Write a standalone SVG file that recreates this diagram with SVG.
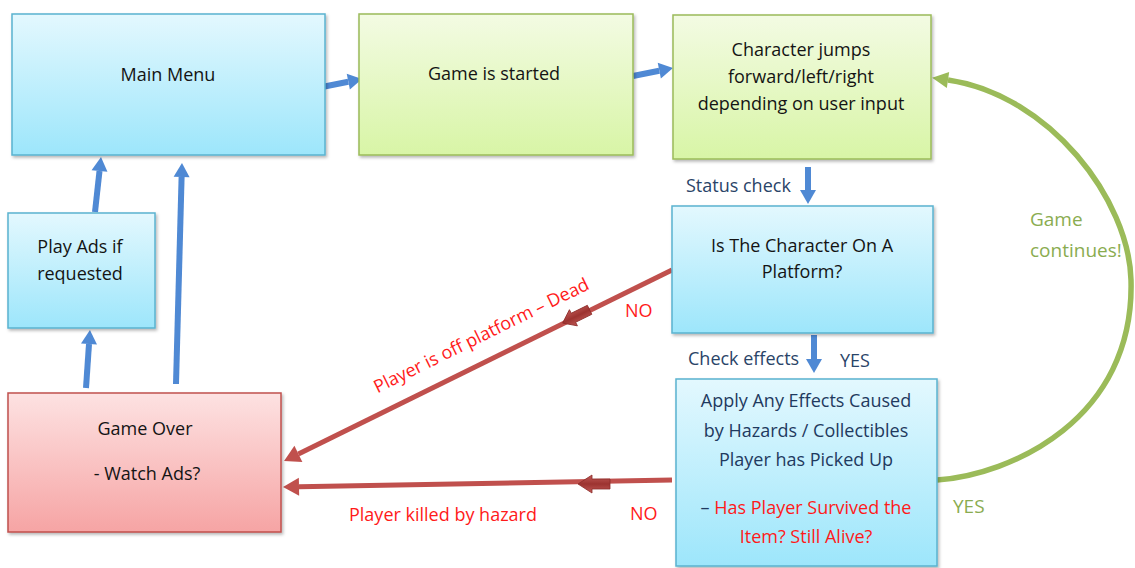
<svg xmlns="http://www.w3.org/2000/svg" width="1135" height="568" viewBox="0 0 1135 568">
<defs>
<linearGradient id="gBlue" x1="0" y1="0" x2="0" y2="1"><stop offset="0" stop-color="#e3f8fe"/><stop offset="1" stop-color="#9de6fb"/></linearGradient>
<linearGradient id="gGreen" x1="0" y1="0" x2="0" y2="1"><stop offset="0" stop-color="#f3fbe3"/><stop offset="1" stop-color="#d8f5a6"/></linearGradient>
<linearGradient id="gRed" x1="0" y1="0" x2="0" y2="1"><stop offset="0" stop-color="#fde2e2"/><stop offset="1" stop-color="#f6a4a4"/></linearGradient>
<linearGradient id="gMid" x1="0" y1="0" x2="0" y2="1"><stop offset="0" stop-color="#c25a57"/><stop offset="0.5" stop-color="#9c3330"/><stop offset="1" stop-color="#c25a57"/></linearGradient>
<filter id="sh" x="-5%" y="-5%" width="110%" height="115%"><feDropShadow dx="1.5" dy="2" stdDeviation="1.5" flood-color="#000" flood-opacity="0.28"/></filter>
<marker id="aBlue" markerUnits="userSpaceOnUse" markerWidth="20" markerHeight="20" refX="0" refY="0" viewBox="0 -10 16 20" orient="auto"><path d="M0,-8 L14,0 L0,8 z" fill="#4f89d4"/></marker>
<marker id="aRed" markerUnits="userSpaceOnUse" markerWidth="20" markerHeight="22" refX="0" refY="0" viewBox="0 -11 18 22" orient="auto"><path d="M0,-9 L16,0 L0,9 z" fill="#c0504d"/></marker>
<marker id="aGreen" markerUnits="userSpaceOnUse" markerWidth="20" markerHeight="22" refX="0" refY="0" viewBox="0 -11 18 22" orient="auto"><path d="M0,-8 L16,0 L0,8 z" fill="#9bbb59"/></marker>
</defs>
<style>
.nb{fill:url(#gBlue);stroke:#5ab3cf;stroke-width:1.5;filter:url(#sh)}
.ng{fill:url(#gGreen);stroke:#9bbb59;stroke-width:1.5;filter:url(#sh)}
.nr{fill:url(#gRed);stroke:#c0504d;stroke-width:1.5;filter:url(#sh)}
text{font-family:"Open Sans","Noto Sans",sans-serif;font-size:18px}
.t{fill:#141414;text-anchor:middle}
.tn{fill:#1f3a5f;text-anchor:middle}
.lb{fill:#2a4468}
.lr{fill:#ff1a1a}
.lg{fill:#8aac50;font-size:19px}
.cb{stroke:#4f89d4;stroke-width:6;fill:none;marker-end:url(#aBlue)}
.cr{stroke:#c0504d;stroke-width:5;fill:none;marker-end:url(#aRed)}
.cg{stroke:#9bbb59;stroke-width:5.5;fill:none;marker-end:url(#aGreen)}
</style>
<rect width="1135" height="568" fill="#ffffff"/>

<g id="connectors">
<line class="cb" x1="322" y1="87" x2="348.3" y2="81.7"/>
<line class="cb" x1="633" y1="76" x2="659.3" y2="70.7"/>
<line class="cb" x1="808" y1="167" x2="808" y2="190"/>
<line class="cb" x1="814" y1="335" x2="814" y2="359"/>
<line class="cb" x1="95" y1="212" x2="99.5" y2="171"/>
<line class="cb" x1="176" y1="384" x2="181.6" y2="177"/>
<line class="cb" x1="86" y1="388" x2="89" y2="344"/>
<line class="cr" x1="672" y1="270" x2="298.4" y2="453.9"/>
<line class="cr" x1="672" y1="480" x2="299" y2="486.7"/>
<path class="cg" d="M937,480 C1010,475 1135,420 1131,280 C1129,200 1050,95 948,80"/>
<g transform="translate(577,316) rotate(-26.2)">
<path d="M-16,0 L-4,-9 L-4,-5 L14,-5 L14,5 L-4,5 L-4,9 z" fill="url(#gMid)" stroke="#8c2b28" stroke-width="0.8"/>
</g>
<path d="M578,484 L592,475 L592,479 L610,479 L610,489 L592,489 L592,493 z" fill="url(#gMid)" stroke="#8c2b28" stroke-width="0.8"/>
<text class="lb" x="686" y="192">Status check</text>
<text class="lb" x="688" y="365">Check effects</text>
<text class="lb" x="840" y="367">YES</text>
<text class="lg" x="1030" y="226">Game</text>
<text class="lg" x="1030" y="257">continues!</text>
<text class="lg" x="953" y="513">YES</text>
<text class="lr" x="625" y="317">NO</text>
<text class="lr" x="630" y="520">NO</text>
<text class="lr" x="443" y="521" text-anchor="middle">Player killed by hazard</text>
<text class="lr" x="0" y="0" text-anchor="middle" transform="translate(484,341) rotate(-26.2)">Player is off platform – Dead</text>
</g>

<g id="main-menu">
<rect class="nb" x="12" y="14" width="313" height="141"/>
<text class="t" x="168" y="81">Main Menu</text>
</g>
<g id="game-started">
<rect class="ng" x="359" y="14" width="274" height="141"/>
<text class="t" x="494" y="80">Game is started</text>
</g>
<g id="character-jumps">
<rect class="ng" x="673" y="15" width="258" height="144"/>
<text class="t" x="801" y="56">Character jumps</text>
<text class="t" x="801" y="83">forward/left/right</text>
<text class="t" x="801" y="110">depending on user input</text>
</g>
<g id="on-platform">
<rect class="nb" x="672" y="206" width="261" height="127"/>
<text class="t" x="802" y="252">Is The Character On A</text>
<text class="t" x="802" y="278">Platform?</text>
</g>
<g id="apply-effects">
<rect class="nb" x="676" y="379" width="261" height="187"/>
<text class="tn" x="806" y="407">Apply Any Effects Caused</text>
<text class="tn" x="806" y="437">by Hazards / Collectibles</text>
<text class="tn" x="806" y="466">Player has Picked Up</text>
<text class="tn" x="806" y="514">– <tspan fill="#ff1a1a">Has Player Survived the</tspan></text>
<text class="tn" x="806" y="543" style="fill:#ff1a1a">Item? Still Alive?</text>
</g>
<g id="play-ads">
<rect class="nb" x="8" y="213" width="147" height="115"/>
<text class="t" x="80" y="253">Play Ads if</text>
<text class="t" x="80" y="280">requested</text>
</g>
<g id="game-over">
<rect class="nr" x="8" y="393" width="273" height="139"/>
<text class="t" x="145" y="435">Game Over</text>
<text class="t" x="147" y="480">- Watch Ads?</text>
</g>
</svg>
